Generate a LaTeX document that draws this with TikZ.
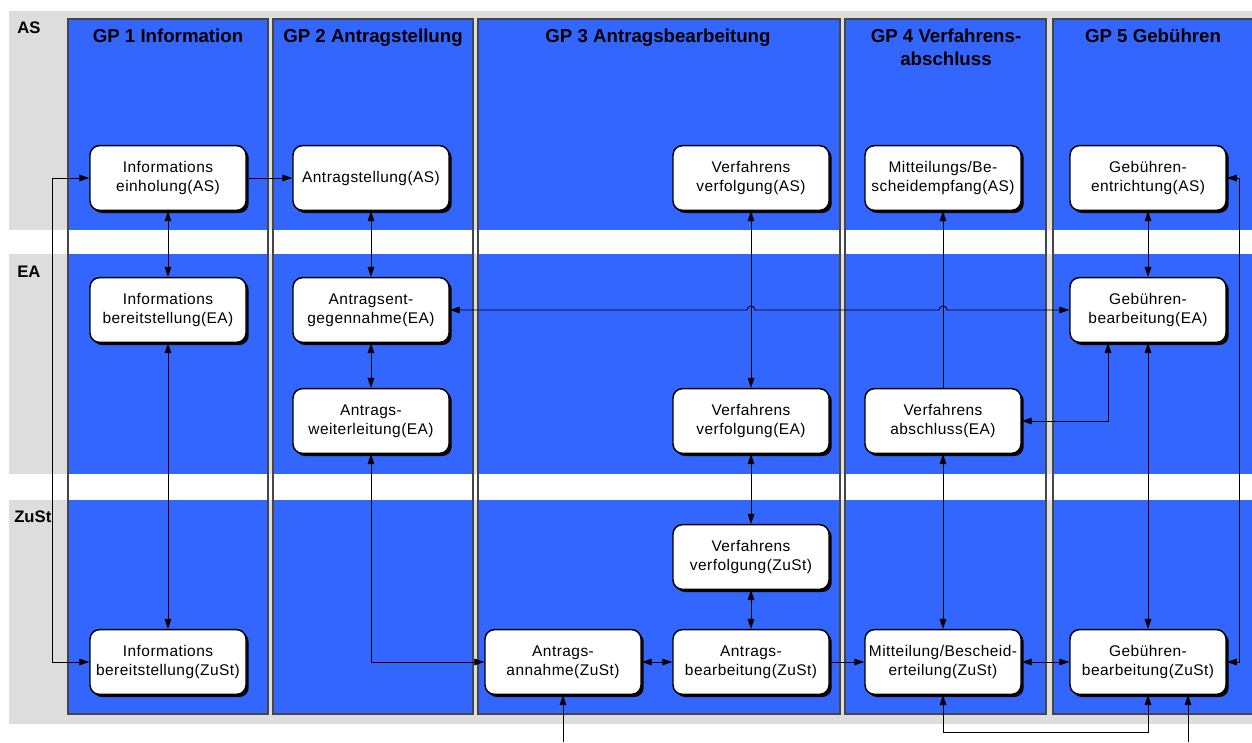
\documentclass[tikz,border=0pt]{standalone}
\usepackage{fontspec}
\setmainfont{Liberation Sans}
\newfontfamily\procfont[LetterSpace=3]{Liberation Sans}
\definecolor{gpblue}{RGB}{51, 102, 255}
\definecolor{lanegray}{RGB}{221, 221, 221}
\definecolor{colline}{RGB}{70, 70, 70}
\usetikzlibrary{arrows.meta, positioning, calc, shadows}

\begin{document}
\begin{tikzpicture}[x=0.75pt, y=-0.75pt,
  proc/.style={rectangle, rounded corners=7pt, draw=black, line width=1.1pt, fill=white,
    minimum width=117pt, minimum height=48.5pt, align=center, inner sep=1pt,
    font=\procfont\fontsize{11.6}{14.3}\selectfont,
    drop shadow={shadow xshift=2pt, shadow yshift=-2pt, fill=black, opacity=1}},
  gptitle/.style={anchor=north, align=center, inner sep=0pt, font=\fontsize{14}{17.3}\selectfont\bfseries},
  lanelabel/.style={anchor=north west, inner sep=0pt, font=\fontsize{12.5}{15}\selectfont\bfseries},
  ar/.style={line width=0.7pt, -{Triangle[length=7.5pt, width=5pt]}},
  biar/.style={line width=0.7pt, {Triangle[length=7.5pt, width=5pt]}-{Triangle[length=7.5pt, width=5pt]}}]
  \useasboundingbox (0,0) rectangle (1252,742);
  \clip (0,0) rectangle (1252,742);

  % Swimlanes
  \foreach \t/\b in {11/230, 254/474, 500/724} {
    \fill[lanegray] (9,\t) rectangle (1260,\b);
  }
  % Columns GP 1 ... GP 5
  \foreach \l/\r in {68/268, 273/473, 478/840, 845/1046, 1053/1256} {
    \foreach \t/\b in {19/230, 254/474, 500/714} {
      \fill[gpblue] (\l,\t) rectangle (\r,\b);
    }
    \draw[colline, line width=0.8pt] (\l,19) rectangle (\r,714);
  }

  \node[gptitle] (gp1) at (168,29) {GP 1 Information};
  \node[gptitle] (gp2) at (373,29) {GP 2 Antragstellung};
  \node[gptitle] (gp3) at (658,29) {GP 3 Antragsbearbeitung};
  \node[gptitle] (gp4) at (946,29) {GP 4 Verfahrens-\\abschluss};
  \node[gptitle] (gp5) at (1153,29) {GP 5 Gebühren};

  \node[lanelabel] (laneAS) at (17,22) {AS};
  \node[lanelabel] (laneEA) at (17,266) {EA};
  \node[lanelabel] (laneZuSt) at (14,511) {ZuSt};

  % Prozesse
  \node[proc] (infoAS) at (168,178) {Informations\\einholung(AS)};
  \node[proc] (antrAS) at (371,178) {Antragstellung(AS)};
  \node[proc] (vvAS) at (751,178) {Verfahrens\\verfolgung(AS)};
  \node[proc] (mbAS) at (943,178) {Mitteilungs/Be-\\scheidempfang(AS)};
  \node[proc] (gebAS) at (1148,178) {Gebühren-\\entrichtung(AS)};

  \node[proc] (infoEA) at (168,310) {Informations\\bereitstellung(EA)};
  \node[proc] (antrEnt) at (371,310) {Antragsent-\\gegennahme(EA)};
  \node[proc] (gebEA) at (1148,310) {Gebühren-\\bearbeitung(EA)};
  \node[proc] (antrWeit) at (371,421) {Antrags-\\weiterleitung(EA)};
  \node[proc] (vvEA) at (751,421) {Verfahrens\\verfolgung(EA)};
  \node[proc] (verfAbs) at (943,421) {Verfahrens\\abschluss(EA)};

  \node[proc] (vvZuSt) at (751,557) {Verfahrens\\verfolgung(ZuSt)};
  \node[proc] (infoZuSt) at (168,662) {Informations\\bereitstellung(ZuSt)};
  \node[proc] (antrAnn) at (563,662) {Antrags-\\annahme(ZuSt)};
  \node[proc] (antrBea) at (751,662) {Antrags-\\bearbeitung(ZuSt)};
  \node[proc] (mbZuSt) at (943,662) {Mitteilung/Bescheid-\\erteilung(ZuSt)};
  \node[proc] (gebZuSt) at (1148,662) {Gebühren-\\bearbeitung(ZuSt)};

  \coordinate (inAnn) at (563,742);
  \coordinate (inGeb) at (1188,742);

  % Verbindungen
  \draw[biar] (infoAS.west) -- ++(-37,0) |- (infoZuSt.west);
  \draw[ar] (infoAS.east) -- (antrAS.west);
  \draw[biar] (infoAS.south) -- (infoEA.north);
  \draw[biar] (infoEA.south) -- (infoZuSt.north);
  \draw[biar] (antrAS.south) -- (antrEnt.north);
  \draw[biar] (antrEnt.south) -- (antrWeit.north);
  \draw[biar] (antrWeit.south) |- (antrAnn.west);
  \draw[biar] (antrEnt.east) -- ([xshift=-3pt]vvAS.south |- antrEnt.east)
    arc[start angle=180, end angle=0, radius=3pt]
    -- ([xshift=-3pt]mbAS.south |- antrEnt.east)
    arc[start angle=180, end angle=0, radius=3pt] -- (gebEA.west);
  \draw[biar] (vvAS.south) -- (vvEA.north);
  \draw[biar] (vvEA.south) -- (vvZuSt.north);
  \draw[biar] (vvZuSt.south) -- (antrBea.north);
  \draw[biar] (antrAnn.east) -- (antrBea.west);
  \draw[ar] (antrBea.east) -- (mbZuSt.west);
  \draw[biar] (mbZuSt.east) -- (gebZuSt.west);
  \draw[ar] (verfAbs.north) -- (mbAS.south);
  \draw[biar] (verfAbs.south) -- (mbZuSt.north);
  \draw[biar] (gebAS.south) -- (gebEA.north);
  \draw[biar] (gebEA.south) -- (gebZuSt.north);
  \draw[biar] (verfAbs.east) -| ([xshift=-30pt]gebEA.south);
  \draw[biar] (gebZuSt.east) -- ++(13,0) |- (gebAS.east);
  \draw[biar] (mbZuSt.south) -- ++(0,37) -| (gebZuSt.south);
  \draw[ar] (inAnn) -- (antrAnn.south);
  \draw[ar] (inGeb) -- ([xshift=30pt]gebZuSt.south);
\end{tikzpicture}
\end{document}
